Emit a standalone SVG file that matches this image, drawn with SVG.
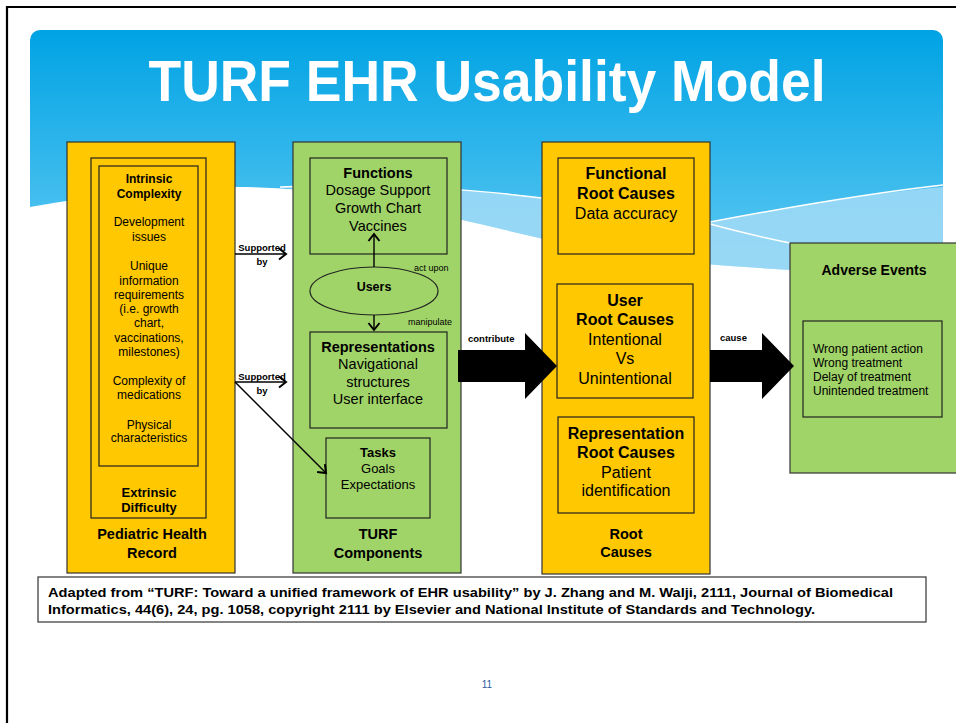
<svg xmlns="http://www.w3.org/2000/svg" width="956" height="723" viewBox="0 0 956 723">
<defs>
<linearGradient id="sky" x1="0" y1="0" x2="0" y2="1">
<stop offset="0" stop-color="#00A3E4"/>
<stop offset="1" stop-color="#6ACDF4"/>
</linearGradient>
<marker id="chev" markerUnits="userSpaceOnUse" markerWidth="14" markerHeight="14" refX="10" refY="7" orient="auto">
<path d="M3,1.5 L10,7 L3,12.5" fill="none" stroke="#000" stroke-width="2"/>
</marker>
</defs>
<style>
.yel{fill:#FFC800;stroke:#333;stroke-width:1.2}
.grn{fill:#A0D468;stroke:#333;stroke-width:1.2}
.box{fill:none;stroke:#222;stroke-width:1.2}
text{font-family:"Liberation Sans",Arial,sans-serif;fill:#000}
.c{text-anchor:middle}
.b{font-weight:bold}
.s12{font-size:12px}
.s13{font-size:13px}
.s14{font-size:14.5px}
.s16{font-size:16px}
.lbl{font-size:9.5px}
.ln{stroke:#000;stroke-width:1.4;fill:none}
</style>
<rect width="956" height="723" fill="#fff"/>
<!-- frame -->
<path d="M7,723 L7,7 L956,7" fill="none" stroke="#000" stroke-width="2.2"/>
<!-- header -->
<g id="header">
<rect x="30" y="30" width="913" height="270" rx="10" fill="url(#sky)"/>
<path d="M280,187 C400,182 500,188 710,222 C800,205 880,192 943,187 L943,276 C850,274 720,268 620,255 C500,232 400,200 300,190 Z" fill="#A2DBF6" opacity="0.85"/>
<path d="M30,207 C120,190 220,182 300,190 C400,200 500,232 620,255 C720,268 850,274 943,276 L943,305 L30,305 Z" fill="#fff"/>
<path d="M280,187 C400,182 500,188 710,222" fill="none" stroke="#fff" stroke-width="1.5"/>
<path d="M710,222 C800,205 880,192 943,185" fill="none" stroke="#fff" stroke-width="1.5"/>
<path d="M710,224 C740,232 765,238 790,243" fill="none" stroke="#fff" stroke-width="1.5"/>
<text x="487" y="101" class="c b" style="font-size:58px;fill:#fff" textLength="677" lengthAdjust="spacingAndGlyphs">TURF EHR Usability Model</text>
</g>
<!-- Pediatric Health Record -->
<g id="pediatric">
<rect x="67" y="142" width="168" height="431" class="yel"/>
<rect x="91" y="158" width="115" height="360" class="box"/>
<rect x="99" y="166" width="99" height="300" class="box"/>
<text x="149" y="183" class="c b s12">Intrinsic</text>
<text x="149" y="198" class="c b s12">Complexity</text>
<text x="149" y="226" class="c s12">Development</text>
<text x="149" y="241" class="c s12">issues</text>
<text x="149" y="270" class="c s12">Unique</text>
<text x="149" y="285" class="c s12">information</text>
<text x="149" y="299" class="c s12">requirements</text>
<text x="149" y="313" class="c s12">(i.e. growth</text>
<text x="149" y="327" class="c s12">chart,</text>
<text x="149" y="342" class="c s12">vaccinations,</text>
<text x="149" y="356" class="c s12">milestones)</text>
<text x="149" y="385" class="c s12">Complexity of</text>
<text x="149" y="399" class="c s12">medications</text>
<text x="149" y="429" class="c s12">Physical</text>
<text x="149" y="442" class="c s12">characteristics</text>
<text x="149" y="497" class="c b s13">Extrinsic</text>
<text x="149" y="512" class="c b s13">Difficulty</text>
<text x="152" y="539" class="c b s14">Pediatric Health</text>
<text x="152" y="558" class="c b s14">Record</text>
</g>
<!-- TURF Components -->
<g id="turf">
<rect x="293" y="142" width="168" height="431" class="grn"/>
<rect x="310" y="158" width="137" height="96" class="box"/>
<text x="378" y="178" class="c b s14">Functions</text>
<text x="378" y="195" class="c s14">Dosage Support</text>
<text x="378" y="213" class="c s14">Growth Chart</text>
<text x="378" y="231" class="c s14">Vaccines</text>
<ellipse cx="374" cy="291" rx="64" ry="24" class="box"/>
<text x="374" y="291" class="c b" style="font-size:12.5px">Users</text>
<rect x="310" y="332" width="137" height="96" class="box"/>
<text x="378" y="352" class="c b s14">Representations</text>
<text x="378" y="369" class="c s14">Navigational</text>
<text x="378" y="387" class="c s14">structures</text>
<text x="378" y="404" class="c s14">User interface</text>
<rect x="326" y="438" width="104" height="80" class="box"/>
<text x="378" y="457" class="c b s13">Tasks</text>
<text x="378" y="473" class="c s13">Goals</text>
<text x="378" y="489" class="c s13">Expectations</text>
<text x="378" y="539" class="c b s14">TURF</text>
<text x="378" y="558" class="c b s14">Components</text>
</g>
<!-- Root Causes -->
<g id="rootcauses">
<rect x="542" y="142" width="168" height="432" class="yel"/>
<rect x="558" y="158" width="136" height="96" class="box"/>
<text x="626" y="179" class="c b s16">Functional</text>
<text x="626" y="199" class="c b s16">Root Causes</text>
<text x="626" y="219" class="c s16">Data accuracy</text>
<rect x="557" y="284" width="136" height="114" class="box"/>
<text x="625" y="306" class="c b s16">User</text>
<text x="625" y="325" class="c b s16">Root Causes</text>
<text x="625" y="345" class="c s16">Intentional</text>
<text x="625" y="364" class="c s16">Vs</text>
<text x="625" y="384" class="c s16">Unintentional</text>
<rect x="558" y="417" width="136" height="96" class="box"/>
<text x="626" y="439" class="c b s16">Representation</text>
<text x="626" y="458" class="c b s16">Root Causes</text>
<text x="626" y="478" class="c s16">Patient</text>
<text x="626" y="496" class="c s16">identification</text>
<text x="626" y="539" class="c b s14">Root</text>
<text x="626" y="557" class="c b s14">Causes</text>
</g>
<!-- Adverse Events -->
<g id="adverse">
<rect x="790" y="243" width="170" height="230" class="grn"/>
<text x="874" y="275" class="c b" style="font-size:14px">Adverse Events</text>
<rect x="803" y="321" width="139" height="96" class="box"/>
<text x="813" y="353" class="s12">Wrong patient action</text>
<text x="813" y="367" class="s12">Wrong treatment</text>
<text x="813" y="381" class="s12">Delay of treatment</text>
<text x="813" y="395" class="s12">Unintended treatment</text>
</g>
<!-- connectors -->
<g id="connectors">
<line x1="235" y1="254" x2="286" y2="254" class="ln" marker-end="url(#chev)"/>
<line x1="235" y1="382" x2="286" y2="382" class="ln" marker-end="url(#chev)"/>
<line x1="235" y1="382" x2="326" y2="473" class="ln" marker-end="url(#chev)"/>
<line x1="374" y1="267" x2="374" y2="234" class="ln" stroke-width="1.8" marker-end="url(#chev)"/>
<line x1="374" y1="315" x2="374" y2="330" class="ln" stroke-width="1.8" marker-end="url(#chev)"/>
<polygon points="458,350 525,350 525,333 557,366 525,399 525,382 458,382" fill="#000"/>
<polygon points="710,350 762,350 762,333 794,366 762,399 762,382 710,382" fill="#000"/>
<text x="262" y="251" class="c b lbl">Supported</text>
<text x="262" y="265" class="c b lbl">by</text>
<text x="262" y="380" class="c b lbl">Supported</text>
<text x="262" y="394" class="c b lbl">by</text>
<text x="414" y="271" style="font-size:9px">act upon</text>
<text x="408" y="325" style="font-size:9px">manipulate</text>
<text x="468" y="342" class="b lbl">contribute</text>
<text x="720" y="341" class="b lbl">cause</text>
</g>
<!-- caption -->
<g id="caption">
<rect x="38" y="577" width="888" height="45" fill="#fff" stroke="#333" stroke-width="1.2"/>
<text x="48" y="597" class="b" style="font-size:13.5px" textLength="845" lengthAdjust="spacingAndGlyphs">Adapted from “TURF: Toward a unified framework of EHR usability” by J. Zhang and M. Walji, 2111, Journal of Biomedical</text>
<text x="48" y="614" class="b" style="font-size:13.5px" textLength="767" lengthAdjust="spacingAndGlyphs">Informatics, 44(6), 24, pg. 1058, copyright 2111 by Elsevier and National Institute of Standards and Technology.</text>
</g>
<text x="487" y="688" class="c" style="font-size:10px;fill:#2E5C9E">11</text>
</svg>
